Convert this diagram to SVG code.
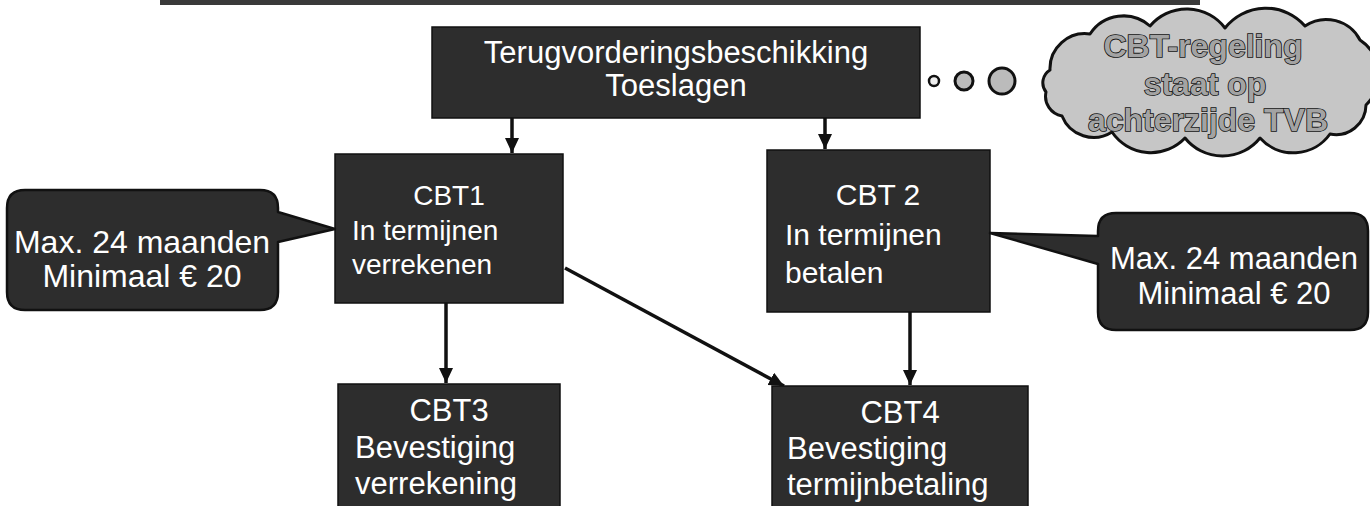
<svg xmlns="http://www.w3.org/2000/svg" width="1370" height="506" viewBox="0 0 1370 506">
<style>
.box{fill:#2d2d2d;stroke:#111;stroke-width:1.5}
.call{fill:#2d2d2d;stroke:#111;stroke-width:2.5;stroke-linejoin:round}
.t{font-family:"Liberation Sans",Arial,sans-serif;fill:#fff;font-size:28px}
.tc{text-anchor:middle}
.big{font-size:31px}
.b30{font-size:30px}
.cloudt{font-family:"Liberation Sans",Arial,sans-serif;font-weight:bold;font-size:32px;fill:#a3a3a3;stroke:#111;stroke-width:1.6;text-anchor:middle;paint-order:stroke}
.conn{stroke:#111;stroke-width:3.5;fill:none}
</style>
<defs>
<marker id="ah" markerUnits="userSpaceOnUse" markerWidth="16" markerHeight="14" refX="15" refY="7" orient="auto">
<path d="M0,0 L15,7 L0,14 Z" fill="#111"/>
</marker>
</defs>
<rect id="topbar" x="160" y="0" width="1040" height="5" fill="#3a3a3a"/>

<g id="connectors">
<line class="conn" x1="512" y1="118" x2="512" y2="153" marker-end="url(#ah)"/>
<line class="conn" x1="825" y1="118" x2="825" y2="149" marker-end="url(#ah)"/>
<line class="conn" x1="446" y1="303" x2="446" y2="383" marker-end="url(#ah)"/>
<line class="conn" x1="565" y1="268" x2="784" y2="386" marker-end="url(#ah)"/>
<line class="conn" x1="910" y1="312" x2="910" y2="385" marker-end="url(#ah)"/>
</g>

<g id="main">
<rect class="box" x="432" y="27" width="488" height="91"/>
<text class="t big tc" x="676" y="63">Terugvorderingsbeschikking</text>
<text class="t big tc" x="676" y="96">Toeslagen</text>
</g>

<g id="thought">
<circle cx="934" cy="81" r="5" fill="#eee" stroke="#111" stroke-width="2.5"/>
<circle cx="964" cy="81" r="9" fill="#bbb" stroke="#111" stroke-width="3"/>
<circle cx="1002" cy="81" r="13" fill="#bbb" stroke="#111" stroke-width="3"/>
<path d="M1050,70 A35,35 0 0 1 1090,34 A40,40 0 0 1 1150,26 A48,48 0 0 1 1225,28 A52,52 0 0 1 1305,26 A38,38 0 0 1 1360,40 A42,42 0 0 1 1366,105 A30,30 0 0 1 1330,134 A45,45 0 0 1 1260,138 A48,48 0 0 1 1185,138 A47,47 0 0 1 1112,132 A34,34 0 0 1 1062,116 A20,20 0 0 1 1046,92 A15,15 0 0 1 1050,70 Z" fill="#c6c6c6" stroke="#111" stroke-width="3" stroke-linejoin="round"/>
<text class="cloudt" x="1203" y="57">CBT-regeling</text>
<text class="cloudt" x="1205" y="95">staat op</text>
<text class="cloudt" x="1208" y="131">achterzijde TVB</text>
</g>

<g id="cbt1">
<rect class="box" x="335" y="154" width="228" height="149"/>
<text class="t tc" x="449" y="205">CBT1</text>
<text class="t" x="352" y="240">In termijnen</text>
<text class="t" x="352" y="274">verrekenen</text>
</g>

<g id="callout-left">
<path class="call" d="M25,190 H260 Q278,190 278,208 V212 L335,229 L278,242 V292 Q278,310 260,310 H25 Q7,310 7,292 V208 Q7,190 25,190 Z"/>
<text class="t tc" style="font-size:32px" x="142" y="253">Max. 24 maanden</text>
<text class="t tc" style="font-size:32px" x="142" y="287">Minimaal € 20</text>
</g>

<g id="cbt2">
<rect class="box" x="767" y="150" width="223" height="162"/>
<text class="t b30 tc" x="878" y="205">CBT 2</text>
<text class="t b30" x="785" y="245">In termijnen</text>
<text class="t b30" x="785" y="283">betalen</text>
</g>

<g id="callout-right">
<path class="call" d="M1116,213 H1350 Q1368,213 1368,231 V312 Q1368,330 1350,330 H1116 Q1098,330 1098,312 V264 L990,233 L1098,236 V231 Q1098,213 1116,213 Z"/>
<text class="t big tc" x="1234" y="269">Max. 24 maanden</text>
<text class="t big tc" x="1234" y="304">Minimaal € 20</text>
</g>

<g id="cbt3">
<rect class="box" x="338" y="384" width="222" height="130"/>
<text class="t big tc" x="449" y="421">CBT3</text>
<text class="t big" x="355" y="458">Bevestiging</text>
<text class="t big" x="355" y="494">verrekening</text>
</g>

<g id="cbt4">
<rect class="box" x="772" y="386" width="256" height="130"/>
<text class="t big tc" x="900" y="423">CBT4</text>
<text class="t big" x="787" y="459">Bevestiging</text>
<text class="t big" x="787" y="495">termijnbetaling</text>
</g>
</svg>
